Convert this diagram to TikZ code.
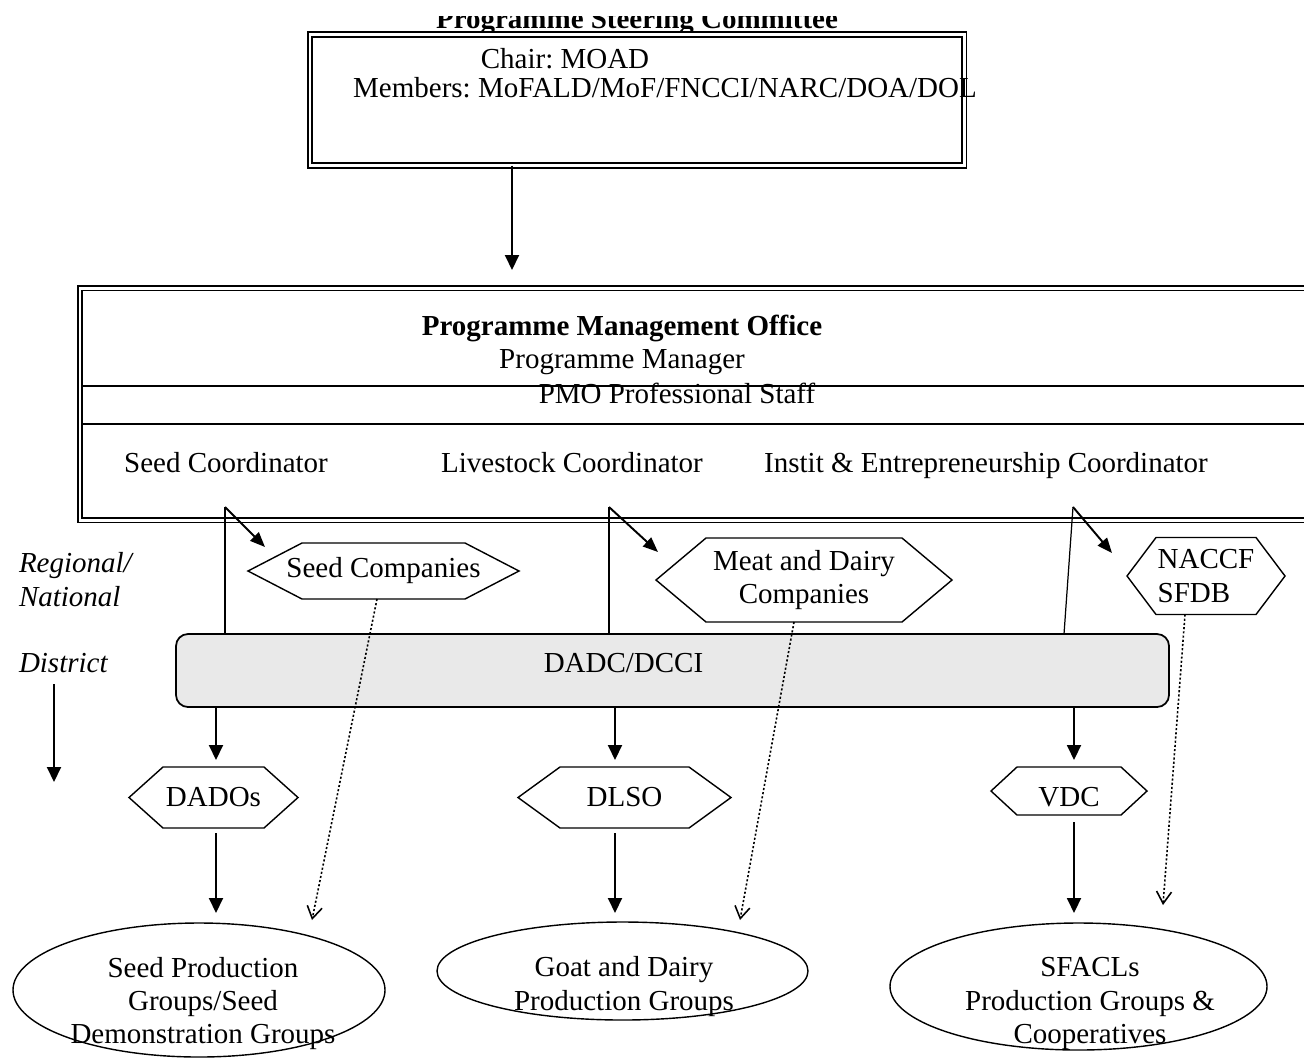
\documentclass[tikz,border=0pt]{standalone}
\usepackage{fontspec}
\setmainfont{Liberation Serif}
\frenchspacing
\usetikzlibrary{arrows.meta}
\usetikzlibrary{positioning,shapes.geometric}

\tikzset{
	every node/.style={font=\fontsize{16.5}{19}\selectfont, inner sep=0pt, outer sep=0pt},
	headtext/.style={font=\fontsize{16.5}{19}\selectfont\bfseries},
	sidetext/.style={font=\fontsize{16.5}{19}\selectfont\itshape},
	dblbox/.style={draw, double, double distance=1.7pt, line width=1.1pt},
	rowline/.style={line width=1.2pt},
	hexbox/.style args={#1/#2}{minimum width=#1*0.02cm, minimum height=#2*0.02cm, align=center},
	hexline/.style={line width=0.8pt},
	dadcbox/.style={draw, line width=1pt, fill=gray!17, rounded corners=0.24cm},
	grpell/.style args={#1/#2}{ellipse, draw, line width=0.8pt, minimum width=#1*0.02cm, minimum height=#2*0.02cm},
	thinline/.style={line width=0.7pt},
	downarrow/.style={line width=1.1pt, -{Triangle[length=0.3cm, width=0.28cm]}},
	slantarrow/.style={line width=1.1pt, -{Triangle[length=0.3cm, width=0.24cm]}},
	dotarrow/.style={line width=0.9pt, dash pattern=on 1.2pt off 1.2pt, -{Straight Barb[length=0.24cm, width=0.3cm]}}
}

\newcommand{\hexedge}[2]{%
	\draw[hexline] (#1.west) -- ([xshift=#2*0.02cm]#1.north west) -- ([xshift=-#2*0.02cm]#1.north east) -- (#1.east) -- ([xshift=-#2*0.02cm]#1.south east) -- ([xshift=#2*0.02cm]#1.south west) -- cycle;}

\begin{document}
\begin{tikzpicture}[x=0.02cm,y=-0.02cm]
	\useasboundingbox (0,0) rectangle (1304,1059);
	%
	\begin{scope}
	\clip (0,16) rectangle (1304,60);
	\node[headtext, anchor=base] (psctitle) at (637,28) {Programme Steering Committee};
	\end{scope}
	\node[dblbox, minimum width=654*0.02cm, minimum height=131*0.02cm] (psc) at (637,100) {};
	\node[anchor=base] (chair) at (565,68) {Chair: MOAD};
	\node[anchor=base] (members) at (665,97) {Members: MoFALD/MoF/FNCCI/NARC/DOA/DOL};
	%
	\node[dblbox, minimum width=1240*0.02cm, minimum height=232*0.02cm] (pmo) at (700,404) {};
	\draw[rowline] (82,386) -- (1304,386);
	\draw[rowline] (82,424) -- (1304,424);
	\node[headtext, anchor=base] (pmohead) at (622,335) {Programme Management Office};
	\node[anchor=base] (pmomgr) at (622,368) {Programme Manager};
	\node[anchor=base] (pmostaff) at (677,403) {PMO Professional Staff};
	\node[anchor=base] (seedcoord) at (226,472) {Seed Coordinator};
	\node[anchor=base] (livecoord) at (572,472) {Livestock Coordinator};
	\node[anchor=base] (institcoord) at (986,472) {Instit \& Entrepreneurship Coordinator};
	%
	\node[sidetext, anchor=base west, align=left] (regional) at (19,606) {Regional/\\National};
	\node[sidetext, anchor=base west] (district) at (19,672) {District};
	%
	\node[hexbox=271/56] (seedco) at (383.5,571) {Seed Companies};
	\node[hexbox=296/84] (meatco) at (804,580) {Meat and Dairy\\Companies};
	\node[hexbox=158/77, align=left] (naccf) at (1206,576) {NACCF\\SFDB};
	\hexedge{seedco}{54}
	\hexedge{meatco}{50}
	\hexedge{naccf}{29}
	%
	\node[dadcbox, minimum width=993*0.02cm, minimum height=73*0.02cm,
		label={[xshift=-49*0.02cm, yshift=7*0.02cm]center:DADC/DCCI}] (dadc) at (672.5,670.5) {};
	%
	\node[hexbox=169/61] (dados) at (213.5,797.5) {DADOs};
	\node[hexbox=213/61] (dlso) at (624.5,797.5) {DLSO};
	\node[hexbox=156/48, text height=18pt, text depth=0pt] (vdc) at (1069,791) {VDC};
	\hexedge{dados}{34}
	\hexedge{dlso}{42}
	\hexedge{vdc}{26}
	%
	\node[grpell=372/134, label={[align=center, xshift=4*0.02cm, yshift=-13.5*0.02cm]center:Seed Production\\Groups/Seed\\Demonstration Groups}] (seedpg) at (199,990) {};
	\node[grpell=371/98, label={[align=center, xshift=1.5*0.02cm, yshift=-15.5*0.02cm]center:Goat and Dairy\\Production Groups}] (goatpg) at (622.5,971) {};
	\node[grpell=377/127, label={[align=center, xshift=11.5*0.02cm, yshift=-17*0.02cm]center:SFACLs\\Production Groups \&\\Cooperatives}] (sfaclpg) at (1078.5,986.5) {};
	%
	\coordinate (pmoin) at (512,270);
	\coordinate (seedb) at (225,507);
	\coordinate (liveb) at (609,507);
	\coordinate (instb) at (1073,507);
	\coordinate (instd) at (1064,634);
	\coordinate (seedtip) at (265,547);
	\coordinate (livetip) at (658,552);
	\coordinate (insttip) at (1112,553);
	\coordinate (dadosaxis) at (216,0);
	\coordinate (dlsoaxis) at (615,0);
	\coordinate (vdcaxis) at (1074,0);
	\coordinate (seeddot) at (312,920);
	\coordinate (meatdot) at (740,920);
	\coordinate (naccfdot) at (1163,905);
	\coordinate (distend) at (54,782);
	%
	\path (pmoin |- psc.south) edge[downarrow] (pmoin);
	%
	\path (seedb) edge[thinline] (seedb |- dadc.north);
	\path (liveb) edge[thinline] (liveb |- dadc.north);
	\path (instb) edge[thinline] (instd);
	\path (seedb) edge[slantarrow] (seedtip);
	\path (liveb) edge[slantarrow] (livetip);
	\path (instb) edge[slantarrow] (insttip);
	%
	\path (dadosaxis |- dadc.south) edge[downarrow, shorten >=0.14cm] (dadosaxis |- dados.north);
	\path (dlsoaxis |- dadc.south) edge[downarrow, shorten >=0.14cm] (dlsoaxis |- dlso.north);
	\path (vdcaxis |- dadc.south) edge[downarrow, shorten >=0.14cm] (vdcaxis |- vdc.north);
	%
	\path (dadosaxis |- dados.south) edge[downarrow, shorten <=0.1cm, shorten >=0.2cm] (dadosaxis |- seedpg.north);
	\path (dlsoaxis |- dlso.south) edge[downarrow, shorten <=0.1cm, shorten >=0.18cm] (dlsoaxis |- goatpg.north);
	\path (vdcaxis |- vdc.south) edge[downarrow, shorten <=0.14cm, shorten >=0.2cm] (vdcaxis |- sfaclpg.north);
	%
	\path ([xshift=-6.5*0.02cm]seedco.south) edge[dotarrow] (seeddot);
	\path ([xshift=-10*0.02cm]meatco.south) edge[dotarrow] (meatdot);
	\path ([xshift=-21*0.02cm]naccf.south) edge[dotarrow] (naccfdot);
	%
	\path (distend |- district.south) edge[downarrow, shorten <=0.24cm] (distend);
\end{tikzpicture}
\end{document}
